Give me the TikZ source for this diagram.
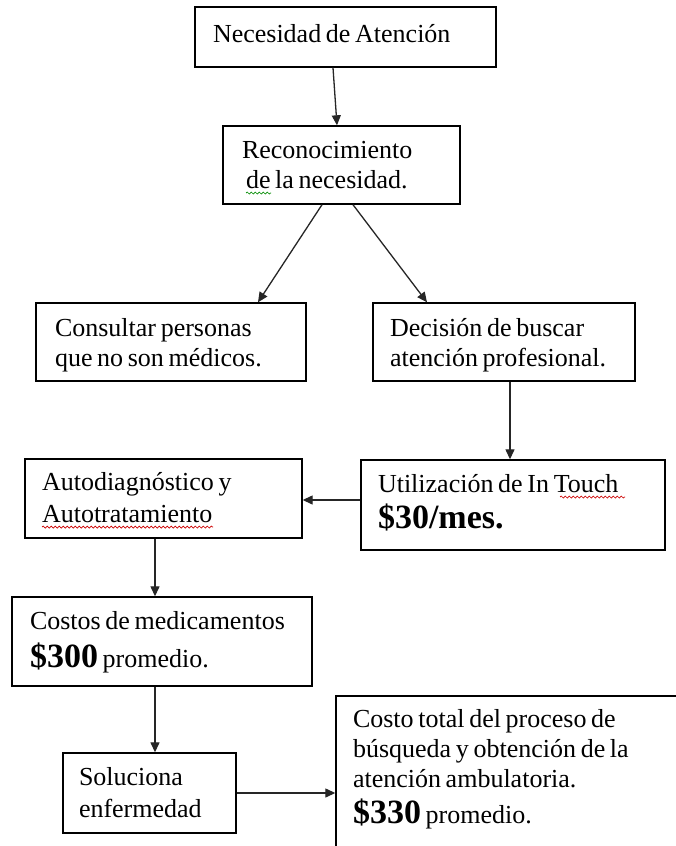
\documentclass[tikz,border=0pt]{standalone}
\usepackage{fontspec}
\setmainfont{Liberation Serif}
\usetikzlibrary{arrows.meta,decorations.pathmorphing}
\tikzset{
  box/.style={draw=black, line width=1.4pt, rectangle, inner sep=0pt, fill=none},
  conn/.style={draw=black!85, line width=1.3pt, -{Triangle[length=10pt,width=9pt]}},
  txt/.style={anchor=base west, inner sep=0pt, outer sep=0pt, text=black,
    font=\fontsize{26}{30}\selectfont},
  big/.style={},
  redwave/.style={draw=red!80!black, line width=0.7pt, decorate,
    decoration={snake, segment length=4pt, amplitude=1pt}},
  greenwave/.style={draw=green!55!black, line width=0.7pt, decorate,
    decoration={snake, segment length=4pt, amplitude=1pt}}
}
\newcommand{\boxtext}[1]{\parbox[t]{320pt}{\lineskiplimit=-100pt\spaceskip=0.18em\relax #1}}
\newcommand{\bigb}[1]{{\fontsize{34}{30}\selectfont\bfseries #1}}
\begin{document}
\begin{tikzpicture}[x=1pt,y=-1pt]
\clip (0,0) rectangle (676,846);
\fill[white] (0,0) rectangle (676,846);

% boxes
\node[box, minimum width=301pt, minimum height=60pt] (n1) at (345.5,37) {};
\node[box, minimum width=237pt, minimum height=78pt] (n2) at (341.5,165) {};
\node[box, minimum width=270pt, minimum height=78pt] (n3) at (171,342) {};
\node[box, minimum width=262pt, minimum height=78pt] (n4) at (504,342) {};
\node[box, minimum width=277pt, minimum height=79pt] (n5) at (163.5,498.5) {};
\node[box, minimum width=304pt, minimum height=90pt] (n6) at (513,505) {};
\node[box, minimum width=300pt, minimum height=89pt] (n7) at (162,641.5) {};
\node[box, minimum width=173pt, minimum height=80pt] (n8) at (149.5,793) {};
\node[box, minimum width=354pt, minimum height=164pt] (n9) at (513,778) {};

% texts
\node[txt] (t1) at (213,42) {\boxtext{Necesidad de Atención}};
\node[txt] (t2) at (242,158) {\boxtext{Reconocimiento\\ \hspace*{4pt}de la necesidad.}};
\node[txt] (t3) at (55,336) {\boxtext{Consultar personas\\ que no son médicos.}};
\node[txt] (t4) at (390,336) {\boxtext{Decisión de buscar\\ atención profesional.}};
\node[txt] (t5) at (42,490) {\boxtext{Autodiagnóstico y\\[2pt] Autotratamiento}};
\node[txt] (t6) at (378,492) {\boxtext{Utilización de In Touch\\[6pt] \bigb{\$30/mes.}}};
\node[txt] (t7) at (30,629) {\boxtext{Costos de medicamentos\\[8pt] \bigb{\$300} promedio.}};
\node[txt] (t8) at (79,785) {\boxtext{Soluciona\\[2pt] enfermedad}};
\node[txt] (t9) at (353,727) {\boxtext{Costo total del proceso de\\ búsqueda y obtención de la\\ atención ambulatoria.\\[6pt] \bigb{\$330} promedio.}};

% spell-check underlines
\draw[greenwave] (246,193) -- (271,193);
\draw[redwave] (42,527) -- (213,527);
\draw[redwave] (560,497) -- (625,497);

% connectors
\draw[conn] ([xshift=-12.5pt]n1.south) -- ([xshift=-4.5pt]n2.north);
\draw[conn] ([xshift=-19.5pt]n2.south) -- ([xshift=87pt]n3.north);
\draw[conn] ([xshift=11.5pt]n2.south) -- ([xshift=-77pt]n4.north);
\draw[conn] ([xshift=6pt]n4.south) -- ([xshift=-3pt]n6.north);
\draw[conn] ([yshift=5pt]n6.west) -- ([yshift=5pt]n6.west -| n5.east);
\draw[conn] ([xshift=-8.5pt]n5.south) -- ([xshift=-8.5pt]n5.south |- n7.north);
\draw[conn] ([xshift=-7pt]n7.south) -- ([xshift=-7pt]n7.south |- n8.north);
\draw[conn] (n8.east) -- (n8.east -| n9.west);
\end{tikzpicture}
\end{document}
